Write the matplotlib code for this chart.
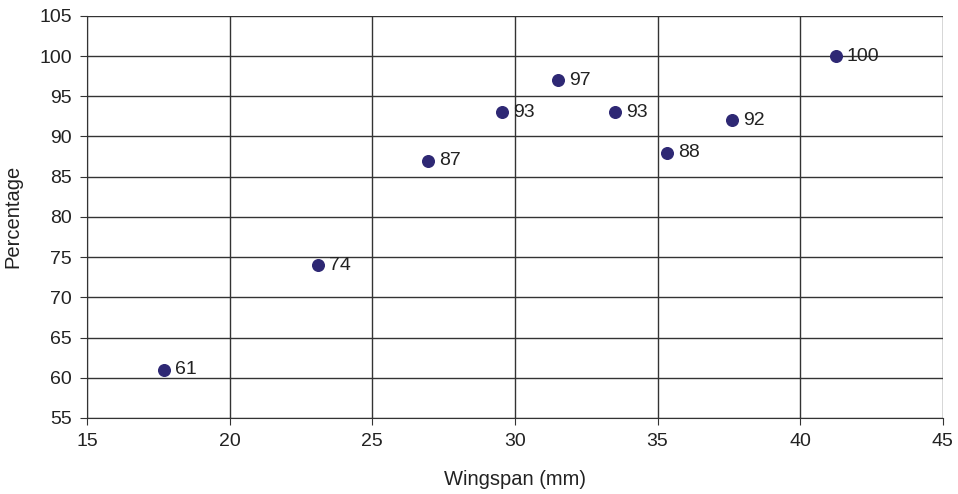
import matplotlib
matplotlib.use("Agg")
import matplotlib.pyplot as plt

wingspan = [17.7, 23.1, 26.95, 29.55, 31.5, 33.5, 35.35, 37.6, 41.25]
percentage = [61, 74, 87, 93, 97, 93, 88, 92, 100]

plt.rcParams["font.family"] = ["Liberation Sans", "DejaVu Sans"]

fig = plt.figure(figsize=(9.58, 4.94), dpi=100)
ax = fig.add_axes([0.091, 0.154, 0.893, 0.814])

ax.scatter(wingspan, percentage, s=70, color="#2e2874", zorder=3)
for x, y in zip(wingspan, percentage):
    ax.annotate(str(y), (x, y), xytext=(8, 0), textcoords="offset points",
                va="center", ha="left", fontsize=14, color="#222222")

ax.set_xlim(15, 45)
ax.set_ylim(55, 105)
ax.set_xticks(range(15, 46, 5))
ax.set_yticks(range(55, 106, 5))
ax.grid(True, color="#333333", linewidth=1.0)
ax.set_axisbelow(True)
for side in ("top", "right"):
    ax.spines[side].set_visible(False)
for side in ("left", "bottom"):
    ax.spines[side].set_color("#333333")
ax.tick_params(direction="out", length=5, color="#333333", labelsize=14,
               labelcolor="#222222", pad=6)
ax.set_xlabel("Wingspan (mm)", fontsize=14.5, color="#222222", labelpad=14)
ax.set_ylabel("Percentage", fontsize=14.5, color="#222222", labelpad=12)

fig.savefig("out.png", dpi=100)
